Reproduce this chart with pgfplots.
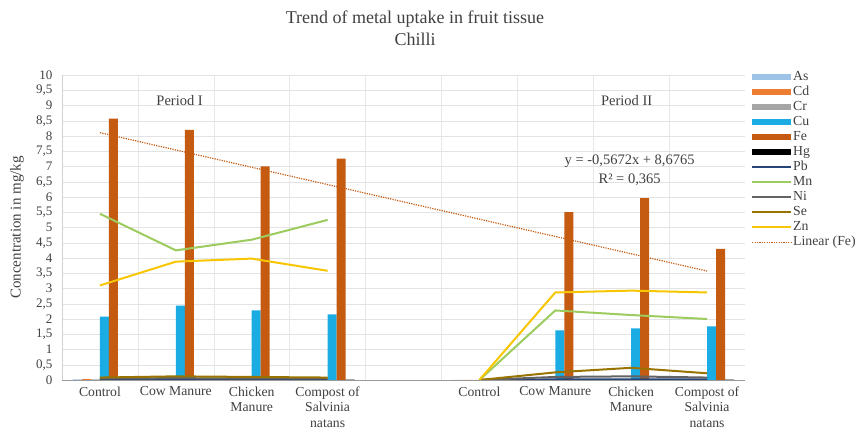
\documentclass[border=0pt]{standalone}
\usepackage{pgfplots}
\pgfplotsset{compat=1.18}
\usepackage{pgfplotstable}
\usepackage{fontspec}
\setmainfont{Liberation Serif}

\definecolor{cAs}{HTML}{9DC3E6}
\definecolor{cCd}{HTML}{ED7D31}
\definecolor{cCr}{HTML}{A5A5A5}
\definecolor{cCu}{HTML}{1AACE3}
\definecolor{cFe}{HTML}{C55A11}
\definecolor{cHg}{HTML}{000000}
\definecolor{cPb}{HTML}{264478}
\definecolor{cMn}{HTML}{9CCB5E}
\definecolor{cNi}{HTML}{636363}
\definecolor{cSe}{HTML}{997300}
\definecolor{cZn}{HTML}{F7C600}
\definecolor{cTr}{HTML}{C55A11}

\pgfplotstableread{
x As Cd Cr Cu Fe Hg Pb Mn Ni Se Zn
1 0.02 0.03 0.02 2.08 8.57 0.01 0.02 5.45 0.05 0.08 3.10
2 0.02 0.03 0.02 2.44 8.20 0.01 0.02 4.25 0.06 0.12 3.88
3 0.02 0.03 0.02 2.28 7.00 0.01 0.02 4.60 0.05 0.10 3.98
4 0.02 0.03 0.02 2.15 7.26 0.01 0.02 5.25 0.05 0.08 3.58
5 nan nan nan nan nan nan nan nan nan nan nan
6 0 0 0 0 0 0 0 0 0 0 0
7 0.02 0.03 0.02 1.63 5.50 0.01 0.02 2.28 0.10 0.25 2.87
8 0.02 0.03 0.02 1.69 5.96 0.01 0.02 2.13 0.12 0.40 2.93
9 0.02 0.03 0.02 1.76 4.30 0.01 0.02 2.00 0.08 0.22 2.87
}\chilli

\pgfplotsset{
  barleg/.style={legend image code/.code={\fill[##1] (0pt,-3pt) rectangle (39pt,3pt);}},
  lineleg/.style={legend image code/.code={\draw[##1] (0pt,0pt) -- (39pt,0pt);}},
  mybar/.style={ybar, bar width=9pt, draw=none, barleg},
  myline/.style={line width=2pt, mark=none, lineleg},
}

\begin{document}
\begin{tikzpicture}
\path[use as bounding box] (0pt,0pt) rectangle (859pt,433pt);
\node[font=\fontsize{18}{18}\selectfont, text=black!75] at (415pt,414pt) {Trend of metal uptake in fruit tissue};
\node[font=\fontsize{18}{18}\selectfont, text=black!75] at (415pt,394pt) {Chilli};
\begin{axis}[
  at={(62pt,53pt)}, anchor=south west,
  scale only axis, width=683pt, height=305pt,
  xmin=0.5, xmax=9.5, ymin=0, ymax=10,
  axis x line*=bottom, axis y line*=left,
  x axis line style={draw=gray!80, line width=0.8pt},
  y axis line style={draw=gray!35},
  xtick={1,...,9},
  xticklabels={Control, Cow Manure, {Chicken\\Manure}, {Compost of\\Salvinia\\natans}, {}, Control, Cow Manure, {Chicken\\Manure}, {Compost of\\Salvinia\\natans}},
  xticklabel style={align=center, font=\fontsize{13.7}{15.5}\selectfont, text=black!75, yshift=-3pt},
  minor xtick={1.5,2.5,3.5,4.5,5.5,6.5,7.5,8.5},
  xminorgrids, minor x grid style={gray!18},
  ytick distance=0.5,
  ymajorgrids, major y grid style={gray!22},
  major tick length=0pt, minor tick length=0pt,
  yticklabel style={font=\fontsize{13}{13}\selectfont, text=black!75, xshift=-6pt, /pgf/number format/.cd, use comma, fixed, precision=1, assume math mode=true},
  ylabel={Concentration in mg/kg},
  ylabel style={at={(axis description cs:-0.066,0.5)}, anchor=center, font=\fontsize{15}{15}\selectfont, text=black!75},
  unbounded coords=jump,
  legend style={at={(1,1)}, anchor=north west, xshift=6pt, yshift=5pt, draw=none, fill=none,
    font=\fontsize{13.8}{13.8}\selectfont, text=black!75, row sep=1pt, inner sep=0pt,
    nodes={inner sep=1pt, text height=9.5pt, text depth=2.5pt}},
  legend cell align=left,
]
\addplot[mybar, fill=cAs, bar shift=-22.5pt] table[x=x,y=As]{\chilli};
\addlegendentry{As}
\addplot[mybar, fill=cCd, bar shift=-13.5pt] table[x=x,y=Cd]{\chilli};
\addlegendentry{Cd}
\addplot[mybar, fill=cCr, bar shift=-4.5pt] table[x=x,y=Cr]{\chilli};
\addlegendentry{Cr}
\addplot[mybar, fill=cCu, bar shift=4.5pt] table[x=x,y=Cu]{\chilli};
\addlegendentry{Cu}
\addplot[mybar, fill=cFe, bar shift=13.5pt] table[x=x,y=Fe]{\chilli};
\addlegendentry{Fe}
\addplot[mybar, fill=cHg, bar shift=22.5pt] table[x=x,y=Hg]{\chilli};
\addlegendentry{Hg}
\addplot[myline, color=cPb] table[x=x,y=Pb]{\chilli};
\addlegendentry{Pb}
\addplot[myline, color=cMn] table[x=x,y=Mn]{\chilli};
\addlegendentry{Mn}
\addplot[myline, color=cNi] table[x=x,y=Ni]{\chilli};
\addlegendentry{Ni}
\addplot[myline, color=cSe] table[x=x,y=Se]{\chilli};
\addlegendentry{Se}
\addplot[myline, color=cZn] table[x=x,y=Zn]{\chilli};
\addlegendentry{Zn}
\addplot[color=cTr, line width=1.2pt, dash pattern=on 1.2pt off 1.2pt, lineleg] coordinates {(1,8.1093) (9,3.5717)};
\addlegendentry{Linear (Fe)}
\node[font=\fontsize{14.5}{14.5}\selectfont, text=black!75] at (axis cs:2.05,9.15) {Period I};
\node[font=\fontsize{14.5}{14.5}\selectfont, text=black!75] at (axis cs:7.94,9.15) {Period II};
\node[font=\fontsize{14.5}{14.5}\selectfont, text=black!75] at (axis cs:7.98,7.17) {y = -0,5672x + 8,6765};
\node[font=\fontsize{14.5}{14.5}\selectfont, text=black!75] at (axis cs:7.98,6.58) {R² = 0,365};
\end{axis}
\end{tikzpicture}
\end{document}
